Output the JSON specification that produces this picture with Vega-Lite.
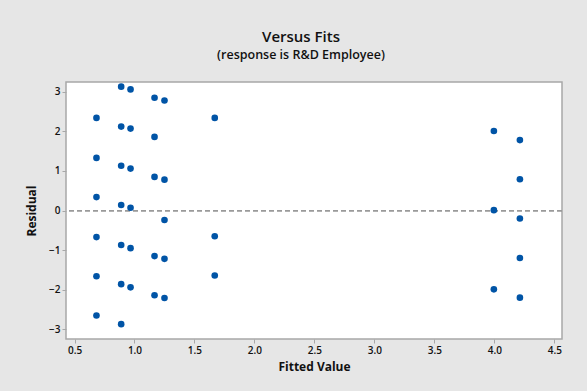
{
  "$schema": "https://vega.github.io/schema/vega-lite/v6.json",
  "width": 496,
  "height": 257,
  "autosize": {"type": "none"},
  "padding": {"left": 66, "top": 82, "right": 25, "bottom": 52},
  "background": "#e6e6e6",
  "title": {
    "text": "Versus Fits",
    "subtitle": "(response is R&D Employee)",
    "anchor": "middle",
    "dx": -13,
    "offset": 21,
    "font": "Open Sans",
    "fontSize": 15,
    "fontWeight": 600,
    "color": "#111111",
    "subtitleFont": "Open Sans",
    "subtitleFontSize": 12.5,
    "subtitleFontWeight": 600,
    "subtitleColor": "#111111",
    "subtitlePadding": 4
  },
  "config": {
    "view": {"fill": "white", "stroke": "#a8a8a8", "strokeWidth": 1.5},
    "axis": {
      "labelFont": "Open Sans",
      "labelFontSize": 10,
      "labelFontWeight": 600,
      "labelColor": "#111111",
      "titleFont": "Open Sans",
      "titleFontSize": 12,
      "titleFontWeight": "bold",
      "titleColor": "#111111",
      "domain": false,
      "grid": false,
      "tickColor": "#a8a8a8",
      "tickSize": 4,
      "labelPadding": 2
    }
  },
  "data": {
    "values": [
      {"fit": 0.683, "resid": 2.34},
      {"fit": 0.683, "resid": 1.33},
      {"fit": 0.683, "resid": 0.34},
      {"fit": 0.683, "resid": -0.67},
      {"fit": 0.683, "resid": -1.66},
      {"fit": 0.683, "resid": -2.65},
      {"fit": 0.889, "resid": 3.13},
      {"fit": 0.889, "resid": 2.12},
      {"fit": 0.889, "resid": 1.13},
      {"fit": 0.889, "resid": 0.14},
      {"fit": 0.889, "resid": -0.87},
      {"fit": 0.889, "resid": -1.86},
      {"fit": 0.889, "resid": -2.87},
      {"fit": 0.967, "resid": 3.06},
      {"fit": 0.967, "resid": 2.07},
      {"fit": 0.967, "resid": 1.06},
      {"fit": 0.967, "resid": 0.07},
      {"fit": 0.967, "resid": -0.95},
      {"fit": 0.967, "resid": -1.94},
      {"fit": 1.167, "resid": 2.85},
      {"fit": 1.167, "resid": 1.86},
      {"fit": 1.167, "resid": 0.85},
      {"fit": 1.167, "resid": -1.15},
      {"fit": 1.167, "resid": -2.14},
      {"fit": 1.25, "resid": 2.78},
      {"fit": 1.25, "resid": 0.78},
      {"fit": 1.25, "resid": -0.24},
      {"fit": 1.25, "resid": -1.22},
      {"fit": 1.25, "resid": -2.21},
      {"fit": 1.669, "resid": 2.34},
      {"fit": 1.669, "resid": -0.65},
      {"fit": 1.669, "resid": -1.64},
      {"fit": 3.996, "resid": 2.01},
      {"fit": 3.996, "resid": 0.01},
      {"fit": 3.996, "resid": -1.99},
      {"fit": 4.213, "resid": 1.78},
      {"fit": 4.213, "resid": 0.79},
      {"fit": 4.213, "resid": -0.2},
      {"fit": 4.213, "resid": -1.2},
      {"fit": 4.213, "resid": -2.2}
    ]
  },
  "layer": [
    {
      "mark": {"type": "rule", "color": "#9a9a9a", "strokeDash": [5, 3], "strokeWidth": 1},
      "encoding": {"y": {"datum": 0, "type": "quantitative"}}
    },
    {
      "mark": {"type": "circle", "size": 44, "color": "#0054a6", "opacity": 1},
      "encoding": {
        "x": {
          "field": "fit",
          "type": "quantitative",
          "title": "Fitted Value",
          "scale": {"domain": [0.429, 4.564], "nice": false, "zero": false},
          "axis": {"values": [0.5, 1, 1.5, 2, 2.5, 3, 3.5, 4, 4.5], "format": ".1f", "titlePadding": 6}
        },
        "y": {
          "field": "resid",
          "type": "quantitative",
          "title": "Residual",
          "scale": {"domain": [-3.245, 3.247], "nice": false, "zero": false},
          "axis": {"values": [-3, -2, -1, 0, 1, 2, 3], "titlePadding": 10}
        }
      }
    }
  ]
}
